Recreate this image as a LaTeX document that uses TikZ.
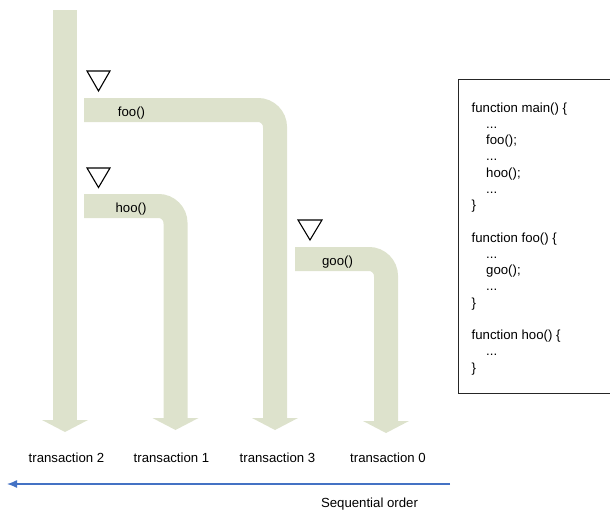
\documentclass[tikz,border=0pt]{standalone}
\usepackage{fontspec}
\setmainfont{Liberation Sans}
\usetikzlibrary{arrows.meta}
\definecolor{flowgreen}{RGB}{221,226,204}
\definecolor{seqblue}{RGB}{68,114,196}
\tikzset{>=latex}
\tikzset{
  flow/.style={draw=flowgreen,line width=24pt,rounded corners=17pt,
    -{Triangle[width=46pt,length=12pt,line width=0pt]}},
  entry/.style={draw,line width=1.1pt,line join=miter},
  lbl/.style={inner sep=0pt,font=\fontsize{13.2}{16.25}\selectfont},
}

\begin{document}
\begin{tikzpicture}[x=1pt,y=-1pt]
    \useasboundingbox (0,0) rectangle (610,512);
    % transactions
    \draw[flow] (65,10) -- (65,432);
    \draw[flow] (84,110) -- (275,110) -- (275,430);
    \draw[flow] (84,206) -- (175.5,206) -- (175.5,430);
    \draw[flow] (295,259) -- (386,259) -- (386,433);
    % entry marks
    \draw[entry] (87,71) -- ++(23,0) -- ++(-11.5,20) -- cycle;
    \draw[entry] (87,168) -- ++(23,0) -- ++(-11.5,19.5) -- cycle;
    \draw[entry] (298,220) -- ++(24,0) -- ++(-12,20) -- cycle;
    \node[lbl,anchor=base] (foo) at (131.5,116.5) {foo()};
    \node[lbl,anchor=base] (hoo) at (131,212.5) {hoo()};
    \node[lbl,anchor=base] (goo) at (337.5,265) {goo()};
    % labels
    \node[lbl,anchor=base] (t2) at (66.5,462.5) {transaction 2};
    \node[lbl,anchor=base] (t1) at (171.5,462.5) {transaction 1};
    \node[lbl,anchor=base] (t3) at (277.5,462.5) {transaction 3};
    \node[lbl,anchor=base] (t0) at (388,462.5) {transaction 0};
    % order
    \coordinate (seqfrom) at (450,484);
    \coordinate (seqto) at (7,484);
    \draw[seqblue,line width=1.3pt,-{Latex[length=10pt,width=8pt]}] (seqfrom) -- (seqto);
    \node[lbl,anchor=base] (seq) at (369.5,507.5) {Sequential order};
    % code
    \draw[black!85,line width=1pt] (458,79.3) rectangle (612,393);
    \node[lbl,anchor=north west,align=left] (code) at (471.5,102.3) {%
      function main() \{\\
      \hspace*{14.5pt}...\\
      \hspace*{14.5pt}foo();\\
      \hspace*{14.5pt}...\\
      \hspace*{14.5pt}hoo();\\
      \hspace*{14.5pt}...\\
      \}\\
      \mbox{}\\
      function foo() \{\\
      \hspace*{14.5pt}...\\
      \hspace*{14.5pt}goo();\\
      \hspace*{14.5pt}...\\
      \}\\
      \mbox{}\\
      function hoo() \{\\
      \hspace*{14.5pt}...\\
      \}};
\end{tikzpicture}
\end{document}
